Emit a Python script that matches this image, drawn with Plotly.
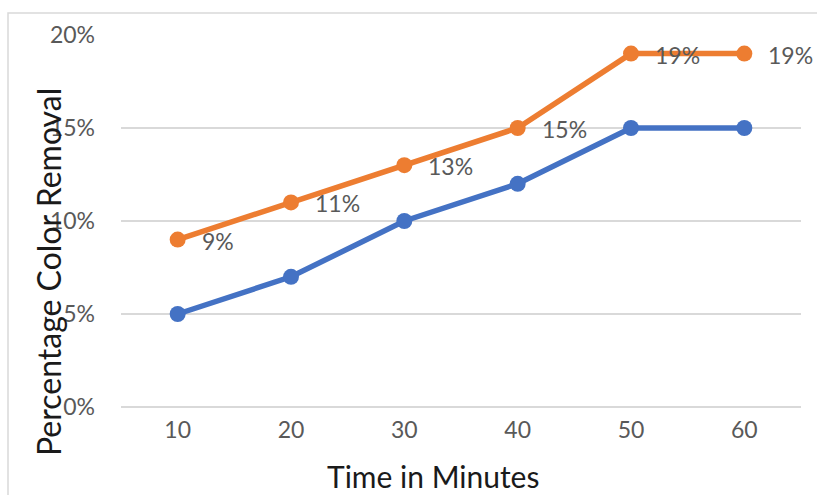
import plotly.graph_objects as go

# Time points (minutes) and percentage colour removal for two runs
minutes = ["10", "20", "30", "40", "50", "60"]
removal_blue = [0.05, 0.07, 0.10, 0.12, 0.15, 0.15]
removal_orange = [0.09, 0.11, 0.13, 0.15, 0.19, 0.19]
orange_labels = ["9%", "11%", "13%", "15%", "19%", "19%"]
y_ticks = [0.0, 0.05, 0.10, 0.15, 0.20]

W, H = 817, 495
L, R, T, B = 121, 16, 35, 88
pw, ph = W - L - R, H - T - B


def px_x(x):
    return (x - L) / pw


def px_y(y):
    return (H - B - y) / ph


FONT = "Lato, 'Open Sans', sans-serif"
GRID = "#d9d9d9"
TICK = "#595959"

fig = go.Figure()
fig.add_trace(go.Scatter(
    x=minutes, y=removal_blue, mode="lines+markers",
    line=dict(color="#4472C4", width=5.5),
    marker=dict(color="#4472C4", size=16),
    showlegend=False, hoverinfo="skip",
))
fig.add_trace(go.Scatter(
    x=minutes, y=removal_orange, mode="lines+markers",
    line=dict(color="#ED7D31", width=5.5),
    marker=dict(color="#ED7D31", size=16),
    showlegend=False, hoverinfo="skip",
))

# Data labels to the right of each orange point (category axis -> use index)
label_annotations = [
    dict(
        x=i, y=v, xref="x", yref="y", text=t, showarrow=False,
        xanchor="left", yanchor="middle", xshift=22, yshift=-1,
        font=dict(family=FONT, size=23, color=TICK),
    )
    for i, (v, t) in enumerate(zip(removal_orange, orange_labels))
]

fig.update_layout(
    width=W, height=H,
    margin=dict(l=L, r=R, t=T, b=B),
    paper_bgcolor="white", plot_bgcolor="white",
    font=dict(family=FONT, color=TICK),
    xaxis=dict(
        type="category", range=[-0.5, 5.5],
        showgrid=False, showline=False, zeroline=False,
        ticks="", tickfont=dict(size=23, color=TICK),
        ticklabelstandoff=7,
    ),
    yaxis=dict(
        range=[0, 0.2], tickvals=y_ticks, tickformat=".0%",
        showgrid=True, gridcolor=GRID, gridwidth=1.5,
        zeroline=True, zerolinecolor=GRID, zerolinewidth=1.5,
        showline=False, ticks="",
        tickfont=dict(size=23, color=TICK), ticklabelstandoff=25,
    ),
    shapes=[dict(
        type="rect", xref="paper", yref="paper",
        x0=px_x(8), x1=px_x(830), y0=px_y(510), y1=px_y(13),
        line=dict(color=GRID, width=1.5), fillcolor="rgba(0,0,0,0)",
        layer="below",
    )],
    annotations=label_annotations + [
        dict(
            text="Percentage Color Removal", xref="paper", yref="paper",
            x=px_x(48), y=px_y(272), textangle=-90, showarrow=False,
            xanchor="center", yanchor="middle",
            font=dict(family=FONT, size=32, color="#1a1a1a"),
        ),
        dict(
            text="Time in Minutes", xref="paper", yref="paper",
            x=px_x(433), y=px_y(476), showarrow=False,
            xanchor="center", yanchor="middle",
            font=dict(family=FONT, size=30, color="#1a1a1a"),
        ),
    ],
)

fig.write_html("out.html")
